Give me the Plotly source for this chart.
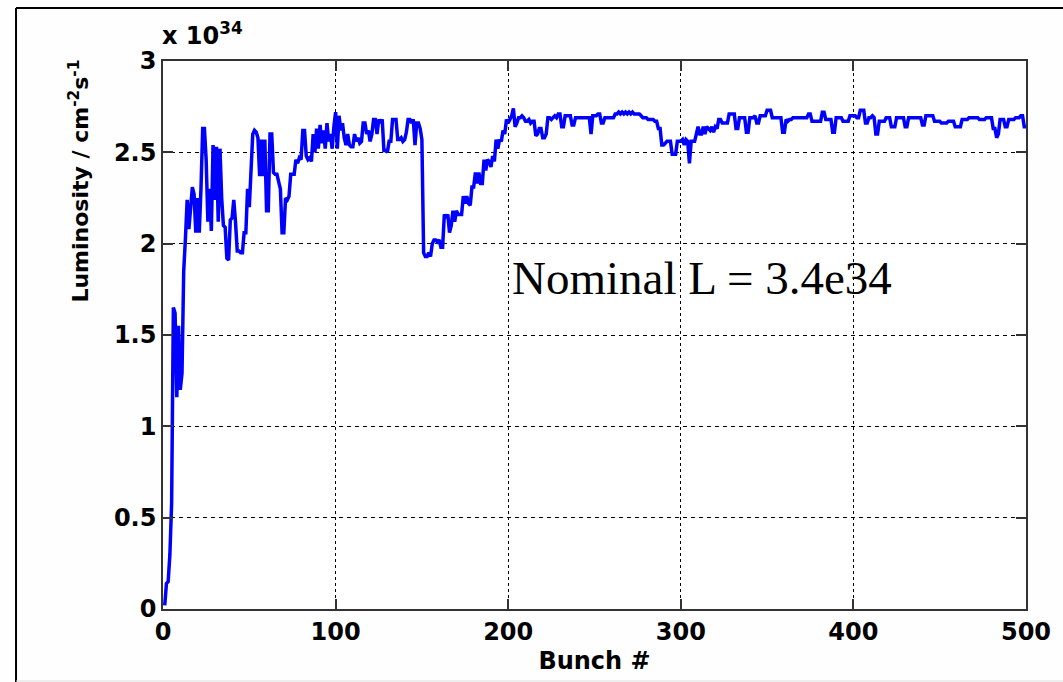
import plotly.graph_objects as go

# Luminosity per bunch (units of 1e34 cm^-2 s^-1)
lumi_001_100 = [
    0.02, 0.14, 0.15, 0.30, 0.58, 1.65, 1.62, 1.16, 1.55, 1.20,
    1.29, 1.85, 2.03, 2.24, 2.08, 2.22, 2.31, 2.27, 2.06, 2.25,
    2.06, 2.30, 2.63, 2.63, 2.46, 2.12, 2.30, 2.07, 2.54, 2.24,
    2.53, 2.12, 2.52, 2.25, 2.10, 2.09, 1.92, 1.91, 2.13, 2.14,
    2.24, 2.12, 1.96, 1.96, 1.95, 1.95, 2.06, 2.06, 2.30, 2.20,
    2.40, 2.60, 2.62, 2.61, 2.58, 2.37, 2.57, 2.37, 2.57, 2.18,
    2.18, 2.60, 2.60, 2.39, 2.38, 2.38, 2.34, 2.30, 2.06, 2.06,
    2.25, 2.24, 2.26, 2.38, 2.38, 2.38, 2.46, 2.44, 2.47, 2.46,
    2.62, 2.62, 2.48, 2.46, 2.47, 2.45, 2.60, 2.50, 2.63, 2.52,
    2.65, 2.55, 2.62, 2.52, 2.66, 2.56, 2.60, 2.52, 2.64, 2.72,
]
lumi_101_200 = [
    2.52, 2.70, 2.62, 2.66, 2.58, 2.54, 2.60, 2.54, 2.53, 2.53,
    2.60, 2.56, 2.58, 2.55, 2.56, 2.66, 2.66, 2.60, 2.62, 2.56,
    2.60, 2.68, 2.68, 2.60, 2.68, 2.66, 2.68, 2.51, 2.51, 2.50,
    2.56, 2.56, 2.68, 2.68, 2.68, 2.57, 2.57, 2.58, 2.56, 2.57,
    2.61, 2.68, 2.68, 2.66, 2.68, 2.54, 2.66, 2.66, 2.63, 2.57,
    1.95, 1.93, 1.93, 1.95, 1.93, 2.00, 2.02, 2.02, 2.01, 2.02,
    1.98, 1.98, 2.16, 2.14, 2.16, 2.06, 2.10, 2.18, 2.12, 2.18,
    2.16, 2.16, 2.16, 2.26, 2.22, 2.26, 2.22, 2.21, 2.31, 2.31,
    2.39, 2.33, 2.39, 2.33, 2.33, 2.46, 2.40, 2.46, 2.45, 2.42,
    2.48, 2.45, 2.57, 2.52, 2.57, 2.56, 2.62, 2.60, 2.68, 2.66,
]
lumi_201_300 = [
    2.68, 2.70, 2.74, 2.64, 2.66, 2.69, 2.69, 2.70, 2.69, 2.67,
    2.67, 2.68, 2.66, 2.67, 2.67, 2.59, 2.60, 2.63, 2.63, 2.58,
    2.58, 2.60, 2.69, 2.69, 2.68, 2.69, 2.70, 2.69, 2.71, 2.71,
    2.64, 2.64, 2.70, 2.70, 2.70, 2.70, 2.65, 2.65, 2.69, 2.69,
    2.69, 2.69, 2.69, 2.69, 2.69, 2.69, 2.69, 2.60, 2.70, 2.70,
    2.70, 2.71, 2.71, 2.66, 2.66, 2.69, 2.69, 2.69, 2.69, 2.69,
    2.69, 2.71, 2.71, 2.72, 2.71, 2.72, 2.71, 2.72, 2.71, 2.72,
    2.71, 2.72, 2.71, 2.71, 2.71, 2.71, 2.70, 2.69, 2.69, 2.69,
    2.68, 2.68, 2.68, 2.68, 2.67, 2.67, 2.63, 2.63, 2.54, 2.54,
    2.55, 2.56, 2.56, 2.56, 2.49, 2.49, 2.49, 2.56, 2.56, 2.56,
]
lumi_301_400 = [
    2.57, 2.54, 2.57, 2.56, 2.44, 2.56, 2.56, 2.56, 2.60, 2.64,
    2.60, 2.60, 2.64, 2.60, 2.64, 2.63, 2.62, 2.64, 2.61, 2.64,
    2.63, 2.68, 2.68, 2.66, 2.66, 2.66, 2.66, 2.71, 2.71, 2.71,
    2.71, 2.63, 2.63, 2.69, 2.69, 2.69, 2.69, 2.61, 2.61, 2.69,
    2.69, 2.69, 2.70, 2.66, 2.66, 2.70, 2.70, 2.70, 2.70, 2.73,
    2.73, 2.73, 2.69, 2.69, 2.69, 2.69, 2.69, 2.69, 2.61, 2.61,
    2.68, 2.67, 2.68, 2.68, 2.69, 2.69, 2.69, 2.69, 2.69, 2.69,
    2.69, 2.69, 2.69, 2.71, 2.71, 2.67, 2.67, 2.67, 2.67, 2.67,
    2.67, 2.72, 2.72, 2.68, 2.68, 2.68, 2.68, 2.61, 2.61, 2.69,
    2.69, 2.69, 2.69, 2.67, 2.67, 2.67, 2.67, 2.70, 2.70, 2.70,
]
lumi_401_500 = [
    2.70, 2.69, 2.69, 2.73, 2.73, 2.73, 2.66, 2.66, 2.69, 2.69,
    2.70, 2.69, 2.60, 2.60, 2.67, 2.67, 2.67, 2.67, 2.69, 2.69,
    2.69, 2.64, 2.64, 2.64, 2.69, 2.69, 2.69, 2.69, 2.69, 2.64,
    2.64, 2.69, 2.69, 2.69, 2.69, 2.69, 2.69, 2.69, 2.69, 2.65,
    2.65, 2.70, 2.70, 2.70, 2.70, 2.70, 2.67, 2.67, 2.67, 2.67,
    2.66, 2.66, 2.66, 2.66, 2.67, 2.67, 2.67, 2.67, 2.64, 2.64,
    2.64, 2.64, 2.68, 2.68, 2.68, 2.68, 2.69, 2.69, 2.69, 2.69,
    2.69, 2.69, 2.68, 2.68, 2.68, 2.68, 2.69, 2.69, 2.69, 2.69,
    2.63, 2.63, 2.58, 2.60, 2.68, 2.68, 2.68, 2.64, 2.64, 2.68,
    2.68, 2.68, 2.68, 2.69, 2.69, 2.69, 2.70, 2.70, 2.64, 2.64,
]

luminosity = lumi_001_100 + lumi_101_200 + lumi_201_300 + lumi_301_400 + lumi_401_500
bunch = list(range(1, len(luminosity) + 1))

x_ticks = [0, 100, 200, 300, 400, 500]
y_ticks = [0, 0.5, 1, 1.5, 2, 2.5, 3]
y_tick_text = ["0", "0.5", "1", "1.5", "2", "2.5", "3"]

W, H = 1063, 682
L, R, T, B = 163, 31, 61, 73
pw, ph = W - L - R, H - T - B


def px_x(p):
    return (p - L) / pw


def px_y(p):
    return (H - B - p) / ph


fig = go.Figure()
fig.add_trace(go.Scatter(
    x=bunch, y=luminosity, mode="lines",
    line=dict(color="#0000FF", width=3.5),
    showlegend=False, hoverinfo="skip",
))

tickfont = dict(family="DejaVu Sans", size=24, color="#000000", weight="bold")
axis_common = dict(
    showline=True, linecolor="#333333", linewidth=1.5, mirror="ticks",
    ticks="inside", ticklen=10, tickcolor="#333333", tickwidth=1.5,
    showgrid=True, gridcolor="#000000", gridwidth=1,
    zeroline=False, tickfont=tickfont,
)

fig.update_xaxes(range=[0, 500], tickvals=x_ticks, griddash="3px,3px",
                 title=dict(text="Bunch #", font=dict(family="DejaVu Sans", size=24,
                                                       color="#000000", weight="bold"),
                            standoff=8),
                 **axis_common)
fig.update_yaxes(range=[0, 3], tickvals=y_ticks, ticktext=y_tick_text,
                 griddash="4px,4px", **axis_common)

fig.add_annotation(
    text="Luminosity / cm<sup>-2</sup>s<sup>-1</sup>", textangle=-90,
    xref="paper", yref="paper", x=px_x(78), y=px_y(181),
    xanchor="center", yanchor="middle", showarrow=False,
    font=dict(family="DejaVu Sans", size=22, color="#000000", weight="bold"),
)
fig.add_annotation(
    text="x 10<sup>34</sup>", xref="paper", yref="paper",
    x=px_x(160), y=px_y(52), xanchor="left", yanchor="bottom", showarrow=False,
    font=dict(family="DejaVu Sans", size=24, color="#000000", weight="bold"),
)
fig.add_annotation(
    text="Nominal L = 3.4e34", xref="x", yref="y",
    x=201, y=1.81, xanchor="left", yanchor="middle", showarrow=False,
    font=dict(family="Liberation Serif", size=47, color="#000000"),
)

# outer figure frame
fig.add_shape(type="line", xref="paper", yref="paper",
              x0=px_x(15), x1=px_x(15), y0=px_y(8), y1=px_y(682),
              line=dict(color="#000000", width=2))
fig.add_shape(type="line", xref="paper", yref="paper",
              x0=px_x(15), x1=px_x(1070), y0=px_y(8), y1=px_y(8),
              line=dict(color="#000000", width=2))
fig.add_shape(type="line", xref="paper", yref="paper",
              x0=px_x(15), x1=px_x(1070), y0=px_y(681), y1=px_y(681),
              line=dict(color="#DDDDDD", width=1))

fig.update_layout(
    width=W, height=H, autosize=False,
    margin=dict(l=L, r=R, t=T, b=B),
    paper_bgcolor="#FEFEFE", plot_bgcolor="#FFFFFF",
)

fig.write_html("out.html")
